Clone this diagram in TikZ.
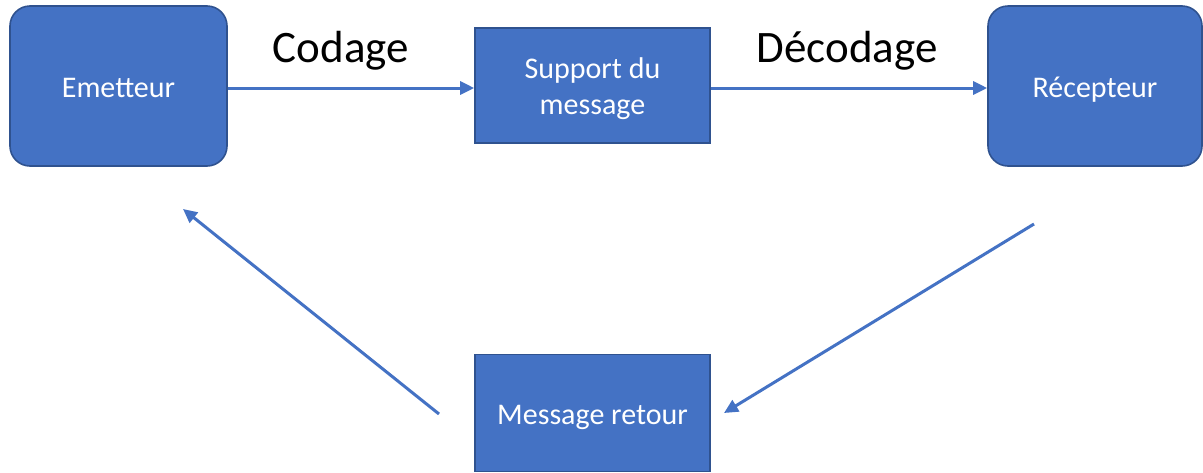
\documentclass[tikz,border=0pt]{standalone}
\usepackage{fontspec}
\setmainfont{Carlito}
\usetikzlibrary{arrows.meta}
\definecolor{boxfill}{HTML}{4472C4}
\definecolor{boxline}{HTML}{2F528F}
\begin{document}
\begin{tikzpicture}[x=1pt,y=-1pt,
  box/.style={draw=boxline,line width=1.6pt,fill=boxfill,text=white,
    font=\fontsize{30}{36}\selectfont,align=center,inner sep=0pt,
    text height=24pt,text depth=2pt},
  rbox/.style={box,rounded corners=20pt},
  lbl/.style={font=\fontsize{45}{54}\selectfont,anchor=base},
  arr/.style={draw=boxfill,line width=3pt,-{Triangle[length=14pt,width=13pt]}}]
  \useasboundingbox (0,0) rectangle (1203,472);
  % the four boxes
  \node[rbox,minimum width=217pt,minimum height=160pt] (emetteur) at (118.5,86) {Emetteur};
  \node[box,text height=59pt,minimum width=235pt,minimum height=115pt] (support) at (592.5,85.5) {Support du\\message};
  \node[rbox,minimum width=214pt,minimum height=160pt] (recepteur) at (1095,86) {R\'ecepteur};
  \node[box,minimum width=235pt,minimum height=117pt] (retour) at (592.5,413) {Message retour};
  % labels over the top arrows
  \node[lbl] (codage) at (341,62) {Codage};
  \node[lbl] (decodage) at (847,62) {D\'ecodage};
  % free ends of the return arrows
  \coordinate (r1) at (1034,224);
  \coordinate (r2) at (724,413);
  \coordinate (e1) at (439,414);
  \coordinate (e2) at (183,209);
  \draw[arr] (emetteur.east |- 0,88) -- (support.west |- 0,88);
  \draw[arr] (support.east |- 0,88) -- (recepteur.west |- 0,88);
  \draw[arr] (r1) -- (r2);
  \draw[arr] (e1) -- (e2);
\end{tikzpicture}
\end{document}
